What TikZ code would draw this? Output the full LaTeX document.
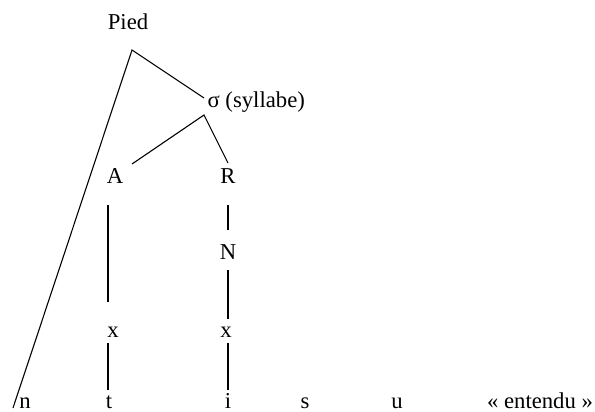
\documentclass[tikz,border=0pt]{standalone}
\usepackage{fontspec}
\setmainfont{Liberation Serif}
\begin{document}
\begin{tikzpicture}[x=1pt, y=-1pt, line width=1.1pt,
    lbl/.style={inner sep=0pt, anchor=base, font=\fontsize{22.7}{27}\selectfont}]
     \useasboundingbox (0,0) rectangle (595,412);
     % tree labels
     \node[lbl] (pied) at (128,30) {Pied};
     \node[lbl, anchor=base west] (syl) at (207,107) {σ (syllabe)};
     \node[lbl] (A) at (115,183) {A};
     \node[lbl] (R) at (228,183) {R};
     \node[lbl] (N) at (228,259) {N};
     \node[lbl] (xA) at (113,337) {x};
     \node[lbl] (xR) at (226,337) {x};
     % segments
     \node[lbl] (n) at (25,408) {n};
     \node[lbl] (t) at (109,408) {t};
     \node[lbl] (i) at (228,408) {i};
     \node[lbl] (s) at (305,408) {s};
     \node[lbl] (u) at (397,408) {u};
     \node[lbl] (gloss) at (540,408) {« entendu »};
     % branch points
     \coordinate (piedtop) at (132,50);
     \coordinate (sylend) at (204,98);
     \coordinate (syltop) at (204,115);
     \coordinate (Aend) at (132,164);
     \coordinate (Rend) at (228,163);
     \coordinate (nend) at (13,408);
     \draw (nend) -- (piedtop) -- (sylend);
     \draw (Aend) -- (syltop) -- (Rend);
     \draw (108,205) coordinate (Abot) -- (108,302) coordinate (xAtop);
     \draw (228,205) coordinate (Rbot) -- (228,230) coordinate (Ntop);
     \draw (228,270) coordinate (Nbot) -- (228,319) coordinate (xRtop);
     \draw (108,343) coordinate (xAbot) -- (108,390) coordinate (ttop);
     \draw (228,343) coordinate (xRbot) -- (228,390) coordinate (itop);
\end{tikzpicture}
\end{document}
